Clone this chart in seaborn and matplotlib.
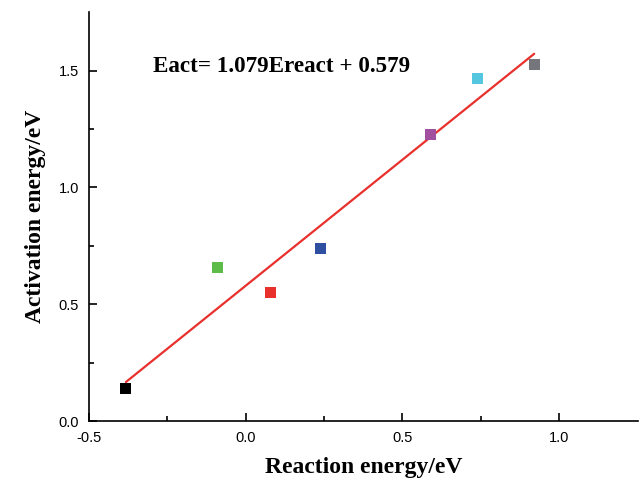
import seaborn as sns
import matplotlib.pyplot as plt
import pandas as pd
import numpy as np

# data
reaction = [-0.382, -0.089, 0.080, 0.239, 0.589, 0.739, 0.920]
activation = [0.141, 0.658, 0.551, 0.739, 1.226, 1.466, 1.526]
labels = ["p1", "p2", "p3", "p4", "p5", "p6", "p7"]
colors = ["#000000", "#5dbb47", "#e8302c", "#2f4fa0", "#a0509e", "#55c6e0", "#74767c"]

slope = 1.079
intercept = 0.579

df = pd.DataFrame({"Reaction": reaction, "Activation": activation, "id": labels})
xfit = np.array([min(reaction), max(reaction)])
fit = pd.DataFrame({"x": xfit, "y": slope * xfit + intercept})

sns.set_style("ticks", {"text.color": "black", "axes.labelcolor": "black",
                        "xtick.color": "black", "ytick.color": "black",
                        "axes.edgecolor": "black"})
fig, ax = plt.subplots(figsize=(6.39, 4.84), dpi=100)
fig.subplots_adjust(left=0.139, right=0.998, bottom=0.13, top=0.975)

sns.lineplot(data=fit, x="x", y="y", color="#e8302c", linewidth=1.6, ax=ax)
sns.scatterplot(data=df, x="Reaction", y="Activation", hue="id",
                palette=colors, marker="s", s=60, edgecolor="none",
                legend=False, ax=ax, zorder=3)

ax.set_xlim(-0.5, 1.25)
ax.set_ylim(0, 1.75)
ax.set_xticks([-0.5, 0.0, 0.5, 1.0])
ax.set_yticks([0.0, 0.5, 1.0, 1.5])
ax.set_xticks([-0.25, 0.25, 0.75], minor=True)
ax.set_yticks([0.25, 0.75, 1.25], minor=True)
ax.tick_params(which="major", direction="in", length=6, width=1.2,
               labelsize=10.5, pad=7)
ax.tick_params(which="minor", direction="in", length=3.5, width=1.2)
ax.set_xticklabels(["-0.5", "0.0", "0.5", "1.0"], family="Liberation Sans")
ax.set_yticklabels(["0.0", "0.5", "1.0", "1.5"], family="Liberation Sans")

for side in ["top", "right"]:
    ax.spines[side].set_visible(False)
for side in ["left", "bottom"]:
    ax.spines[side].set_linewidth(1.2)

ax.set_xlabel("Reaction energy/eV", fontsize=17, fontweight="bold",
              family="Liberation Serif", labelpad=9)
ax.set_ylabel("Activation energy/eV", fontsize=17, fontweight="bold",
              family="Liberation Serif", labelpad=9)

ax.text(-0.296, 1.517, "Eact= 1.079Ereact + 0.579",
        fontsize=16.6, fontweight="bold",
        family="Liberation Serif", ha="left", va="center")

plt.savefig("out.png", dpi=100)
